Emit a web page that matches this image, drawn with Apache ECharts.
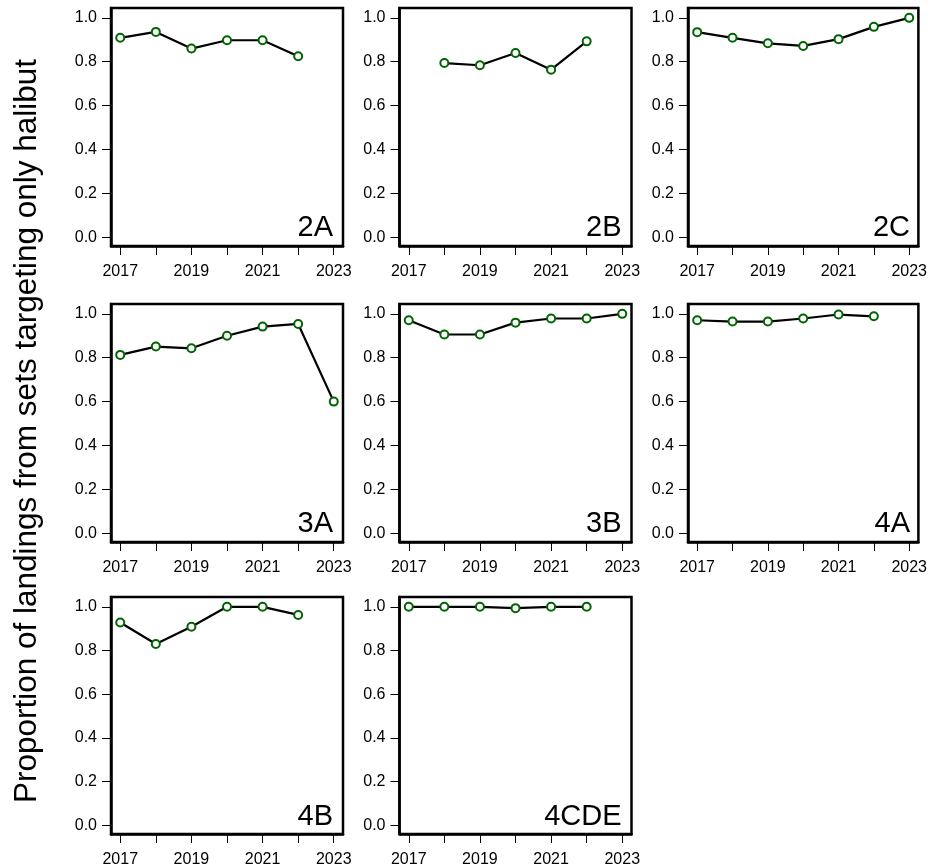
<!DOCTYPE html>
<html>
<head>
<meta charset="utf-8">
<script src="https://cdn.jsdelivr.net/npm/echarts@6/dist/echarts.min.js"></script>
<style>
html,body{margin:0;padding:0;background:#fff;}
#chart{width:930px;height:868px;}
</style>
</head>
<body>
<div id="chart"></div>
<script>
// ---- data ----
var years = [2017, 2018, 2019, 2020, 2021, 2022, 2023];
var xTickLabels = [2017, 2019, 2021, 2023];
var yTicks = [0, 0.2, 0.4, 0.6, 0.8, 1.0];
var areas = ['2A', '2B', '2C', '3A', '3B', '4A', '4B', '4CDE'];
var v2A   = [0.909, 0.936, 0.860, 0.898, 0.898, 0.825, null];
var v2B   = [null,  0.794, 0.784, 0.840, 0.764, 0.893, null];
var v2C   = [0.935, 0.909, 0.884, 0.872, 0.903, 0.959, 1.000];
var v3A   = [0.813, 0.851, 0.843, 0.900, 0.942, 0.954, 0.600];
var v3B   = [0.971, 0.906, 0.906, 0.960, 0.979, 0.979, 1.000];
var v4A   = [0.971, 0.965, 0.965, 0.979, 0.997, 0.989, null];
var v4B   = [0.928, 0.830, 0.909, 1.000, 1.000, 0.963, null];
var v4CDE = [1.000, 1.000, 1.000, 0.994, 1.000, 1.000, null];
var yTitle = 'Proportion of landings from sets targeting only halibut';

var seriesValues = [v2A, v2B, v2C, v3A, v3B, v4A, v4B, v4CDE];

// ---- layout ----
var colLeft = [111, 399.5, 688];
var rowTop = [8, 304, 597];
var W = 232, H = 238;
var FONT = '"Liberation Sans", Arial, sans-serif';

var grids = [], xAxes = [], yAxes = [], series = [];
areas.forEach(function (name, i) {
  var r = Math.floor(i / 3), c = i % 3;
  var L = colLeft[c], T = rowTop[r];
  grids.push({
    left: L, top: T, width: W, height: H, show: true,
    borderColor: '#000', borderWidth: 2.5, backgroundColor: 'transparent'
  });
  xAxes.push({
    type: 'value', gridIndex: i, min: 2016.74, max: 2023.26,
    splitLine: {show: false},
    axisLine: {show: true, onZero: false, lineStyle: {color: '#000', width: 2.5}},
    axisTick: {show: true, length: 9, customValues: years, lineStyle: {color: '#000', width: 1}},
    axisLabel: {customValues: xTickLabels, margin: 18, color: '#000', fontSize: 16, fontFamily: FONT,
      formatter: function (v) { return String(v); }}
  });
  yAxes.push({
    type: 'value', gridIndex: i, min: -0.04, max: 1.045,
    splitLine: {show: false},
    axisLine: {show: true, onZero: false, lineStyle: {color: '#000', width: 2.5}},
    axisTick: {show: true, length: 9, customValues: yTicks, lineStyle: {color: '#000', width: 1}},
    axisLabel: {customValues: yTicks, margin: 14, color: '#000', fontSize: 16, fontFamily: FONT,
      formatter: function (v) { return v.toFixed(1); }}
  });
  var vals = seriesValues[i];
  var data = [];
  years.forEach(function (y, k) { if (vals[k] !== null) data.push([y, vals[k]]); });
  series.push({
    type: 'line', xAxisIndex: i, yAxisIndex: i, data: data,
    symbol: 'emptyCircle', symbolSize: 8, showSymbol: true,
    lineStyle: {color: '#000', width: 2.2},
    itemStyle: {color: '#006400', borderColor: '#006400', borderWidth: 2.6},
    animation: false, silent: true
  });
});

// panel labels placed by bottom-right corner
var graphics = areas.map(function (name, i) {
  var r = Math.floor(i / 3), c = i % 3;
  var L = colLeft[c], T = rowTop[r];
  return {
    type: 'text', x: L + W - 10, y: T + H - 4,
    style: {text: name, fill: '#000', font: '29px ' + FONT, align: 'right', verticalAlign: 'bottom'}
  };
});
graphics.push({
  type: 'text', x: 27, y: 431, rotation: Math.PI / 2,
  style: {text: yTitle, fill: '#000', font: '31.5px ' + FONT, align: 'center', verticalAlign: 'middle'}
});

var chart = echarts.init(document.getElementById('chart'), null, {renderer: 'canvas'});
chart.setOption({
  animation: false,
  backgroundColor: '#fff',
  grid: grids,
  xAxis: xAxes,
  yAxis: yAxes,
  series: series,
  graphic: graphics
});
</script>
</body>
</html>
